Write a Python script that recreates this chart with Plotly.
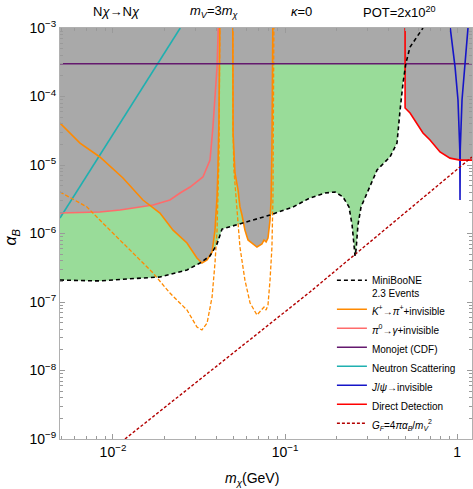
import plotly.graph_objects as go
import math

# ---------------- data (m_chi in GeV, alpha_B) ----------------
mb_m = [0.00492, 0.00839, 0.01205, 0.01875, 0.02692, 0.03206, 0.03664, 0.04027, 0.04305, 0.05702,
        0.08185, 0.1114, 0.1396, 0.171, 0.1954, 0.2173, 0.2355, 0.2455, 0.2518, 0.2553, 0.2588,
        0.2655, 0.2767, 0.2958, 0.3428, 0.4074, 0.4477, 0.4667, 0.4853, 0.5047, 0.5333, 0.6339]
mb_a = [2.09e-7, 2.03e-7, 2.17e-7, 2.32e-7, 2.93e-7, 3.71e-7, 4.70e-7, 7.03e-7, 1.16e-6, 1.42e-6,
        1.86e-6, 2.44e-6, 3.30e-6, 3.90e-6, 4.04e-6, 3.41e-6, 2.44e-6, 1.33e-6, 5.74e-7, 4.70e-7, 5.74e-7,
        1.33e-6, 2.44e-6, 3.65e-6, 8.45e-6, 1.31e-5, 2.09e-5, 6.35e-5, 1.57e-4, 3.08e-4, 5.28e-4, 1.0e-3]

kp1_m = [0.00492, 0.00643, 0.00839, 0.01143, 0.01493, 0.01875, 0.02234, 0.02692, 0.03076, 0.03289,
         0.03524, 0.03767, 0.03917, 0.04027, 0.04074, 0.0413, 0.04188]
kp1_a = [4.10e-5, 2.09e-5, 1.31e-5, 6.46e-6, 3.08e-6, 1.99e-6, 1.12e-6, 7.26e-7, 4.39e-7, 3.71e-7,
         4.10e-7, 5.37e-7, 1.12e-6, 3.41e-6, 8.45e-6, 4.54e-5, 2.0e-3]
kp2_m = [0.0497, 0.0499, 0.05117, 0.05333, 0.0547, 0.05623, 0.05848, 0.06095, 0.06871, 0.07345,
         0.07551, 0.07762, 0.07962, 0.08185, 0.08299, 0.08395, 0.08511]
kp2_a = [2.0e-3, 2.93e-5, 7.64e-6, 4.32e-6, 2.44e-6, 1.86e-6, 1.12e-6, 8.04e-7, 6.35e-7, 7.03e-7,
         8.04e-7, 7.52e-7, 8.59e-7, 1.57e-6, 3.08e-6, 1.66e-5, 2.0e-3]

kd1_m = [0.00492, 0.00706, 0.00839, 0.01205, 0.0171, 0.02143, 0.02692, 0.03076, 0.03289, 0.03524,
         0.03767, 0.03917, 0.04027, 0.04074, 0.0413, 0.04188]
kd1_a = [4.04e-6, 2.44e-6, 1.57e-6, 6.35e-7, 2.65e-7, 1.35e-7, 7.64e-8, 4.32e-8, 3.90e-8, 4.93e-8,
         1.18e-7, 3.71e-7, 1.12e-6, 3.41e-6, 1.18e-5, 2.0e-3]
kd2_m = [0.0497, 0.0499, 0.05047, 0.05188, 0.0547, 0.05848, 0.06266, 0.06871, 0.07345, 0.07551,
         0.07762, 0.07962, 0.08185, 0.08395, 0.08511, 0.0863]
kd2_a = [2.0e-3, 2.93e-5, 8.45e-6, 3.08e-6, 6.35e-7, 2.09e-7, 9.66e-8, 6.46e-8, 7.64e-8, 8.45e-8,
         7.64e-8, 9.04e-8, 2.09e-7, 6.35e-7, 3.41e-6, 2.0e-3]

pi0_m = [0.00492, 0.00839, 0.01099, 0.0171, 0.02143, 0.02455, 0.02806, 0.03334, 0.03664, 0.03811, 0.04027, 0.0413]
pi0_a = [1.99e-6, 2.06e-6, 2.20e-6, 2.61e-6, 3.08e-6, 3.90e-6, 4.77e-6, 6.68e-6, 1.18e-5, 3.59e-5, 2.70e-4, 2.0e-3]

mono_m = [0.004, 1.3]
mono_a = [3.0e-4, 3.0e-4]

neut_m = [0.00492, 0.0246]
neut_a = [1.68e-6, 1.0e-3]

jpsi_m = [0.905, 0.974, 1.013, 1.038, 1.041, 1.041, 1.044, 1.069, 1.113, 1.165]
jpsi_a = [1.2e-3, 2.70e-4, 8.89e-5, 1.66e-5, 3.08e-6, 3.08e-6, 1.66e-5, 8.89e-5, 2.70e-4, 1.2e-3]

dd_m = [0.4989, 0.4989, 0.5333, 0.5848, 0.6339, 0.6966, 0.7962, 0.9099, 1.040, 1.3]
dd_a = [2.0e-3, 6.79e-5, 5.74e-5, 4.10e-5, 2.93e-5, 2.32e-5, 1.55e-5, 1.26e-5, 1.18e-5, 1.18e-5]

gf_m = [0.01174, 0.0321, 0.1396, 1.222]
gf_a = [1.0e-9, 7.52e-9, 1.40e-7, 1.31e-5]

y_tick_vals = [1e-9, 1e-8, 1e-7, 1e-6, 1e-5, 1e-4, 1e-3]
y_tick_text = ["10<sup>\u22129</sup>", "10<sup>\u22128</sup>", "10<sup>\u22127</sup>", "10<sup>\u22126</sup>",
               "10<sup>\u22125</sup>", "10<sup>\u22124</sup>", "10<sup>\u22123</sup>"]
x_tick_vals = [0.01, 0.1, 1]
x_tick_text = ["10<sup>\u22122</sup>", "10<sup>\u22121</sup>", "1"]

# ---------------- styles ----------------
GREEN = "#99dc99"
GRAY = "#a9a9a9"
ORANGE = "#ff8a00"
PINK = "#ff6b6b"
PURPLE = "#64196e"
TEAL = "#1fb0b0"
BLUE = "#1515c8"
RED = "#ff0000"
DRED = "#b30000"
FONT = "Liberation Sans, Arial, sans-serif"
TOP = 2.0e-3
LEFT = 0.004
RIGHT = 1.3

fig = go.Figure()

def fill(xs, ys, color):
    fig.add_trace(go.Scatter(x=xs, y=ys, mode="lines", fill="toself", fillcolor=color,
                             line=dict(width=0, color=color), hoverinfo="skip", showlegend=False))

# green MiniBooNE sensitivity region (above curve)
fill([LEFT] + mb_m + [mb_m[-1], LEFT], [mb_a[0]] + mb_a + [TOP, TOP], GREEN)
# gray existing constraints
fill(mono_m + [RIGHT, LEFT], mono_a + [TOP, TOP], GRAY)
fill([LEFT] + pi0_m + [LEFT], [pi0_a[0]] + pi0_a + [TOP], GRAY)
fill([LEFT] + kp1_m + [LEFT], [kp1_a[0]] + kp1_a + [TOP], GRAY)
fill(kp2_m, kp2_a, GRAY)
fill([LEFT] + neut_m + [LEFT], [neut_a[0]] + neut_a + [TOP], GRAY)
fill(dd_m + [RIGHT], dd_a + [TOP], GRAY)

def line(xs, ys, color, name=None, dash=None, width=1.6, rank=None, show=True, group=None):
    fig.add_trace(go.Scatter(x=xs, y=ys, mode="lines", name=name,
                             line=dict(color=color, width=width, dash=dash),
                             showlegend=show and name is not None, legendrank=rank,
                             legendgroup=group, hoverinfo="skip"))

line(neut_m, neut_a, TEAL, "Neutron Scattering", rank=5)
line(pi0_m, pi0_a, PINK, "<i>\u03c0</i><sup>0</sup>\u2192<i>\u03b3</i>+invisible", rank=3)
line(kd1_m, kd1_a, ORANGE, None, dash="4px,2px", width=1.3, show=False)
line(kd2_m, kd2_a, ORANGE, None, dash="4px,2px", width=1.3, show=False)
line(kp1_m, kp1_a, ORANGE, "<i>K</i><sup>+</sup>\u2192<i>\u03c0</i><sup>+</sup>+invisible", rank=2, group="k")
line(kp2_m, kp2_a, ORANGE, None, show=False, group="k")
line(mono_m, mono_a, PURPLE, "Monojet (CDF)", rank=4)
line(jpsi_m, jpsi_a, BLUE, "<i>J</i>/<i>\u03c8</i>\u2192invisible", rank=6)
line(dd_m, dd_a, RED, "Direct Detection", rank=7)
line(gf_m, gf_a, DRED, "<i>G</i><sub><i>F</i></sub>=4<i>\u03c0\u03b1</i><sub><i>B</i></sub>/<i>m</i><sub><i>V</i></sub><sup>2</sup>",
     dash="3px,2px", width=1.4, rank=8)
line(mb_m, mb_a, "#000000", "MiniBooNE<br>2.3 Events", dash="4px,3px", width=1.6, rank=1)

minor_y = [k * 10 ** e for e in range(-9, -3) for k in range(2, 10)]
minor_x = [k * 10 ** e for e in range(-3, 1) for k in range(2, 10)]

axis_common = dict(showgrid=False, zeroline=False, showline=True, linecolor="#b0b0b0", linewidth=1,
                   mirror="ticks", ticks="inside", ticklen=5, tickcolor="#9a9a9a", tickwidth=1,
                   tickfont=dict(family=FONT, size=14, color="#000000"))

fig.update_xaxes(type="log", range=[math.log10(0.00492), math.log10(1.222)],
                 tickmode="array", tickvals=x_tick_vals, ticktext=x_tick_text,
                 minor=dict(tickmode="array", tickvals=minor_x, ticks="inside", ticklen=3,
                            tickcolor="#9a9a9a", showgrid=False),
                 **axis_common)
fig.update_yaxes(type="log", range=[-9, -3],
                 tickmode="array", tickvals=y_tick_vals, ticktext=y_tick_text,
                 minor=dict(tickmode="array", tickvals=minor_y, ticks="inside", ticklen=3,
                            tickcolor="#9a9a9a", showgrid=False),
                 **axis_common)

def ann(text, x, y, size=13, angle=0):
    fig.add_annotation(text=text, x=x, y=y, xref="paper", yref="paper", showarrow=False,
                       font=dict(family=FONT, size=size, color="#000000"), textangle=angle,
                       xanchor="center", yanchor="middle")

ann("N<i>\u03c7</i>\u2192N<i>\u03c7</i>", 0.138, 1.040)
ann("<i>m</i><sub><i>V</i></sub>=3<i>m</i><sub><i>\u03c7</i></sub>", 0.376, 1.040)
ann("<i>\u03ba</i>=0", 0.585, 1.040)
ann("POT=2x10<sup>20</sup>", 0.825, 1.040)
ann("<i>m</i><sub><i>\u03c7</i></sub>(GeV)", 0.466, -0.098, size=14)
ann("<i>\u03b1</i><sub><i>B</i></sub>", -0.118, 0.491, size=16, angle=-90)

fig.update_layout(
    width=473, height=489,
    margin=dict(l=60, r=1, t=28, b=50),
    paper_bgcolor="white", plot_bgcolor="white",
    font=dict(family=FONT, size=10, color="#000000"),
    legend=dict(x=0.66, y=0.418, xanchor="left", yanchor="top", bgcolor="rgba(0,0,0,0)",
                font=dict(family=FONT, size=10), itemwidth=30, valign="top",
                tracegroupgap=0),
)

fig.write_html("out.html", config={"displayModeBar": False},
               post_script="document.body.style.margin='0';document.body.style.overflow='hidden';")
